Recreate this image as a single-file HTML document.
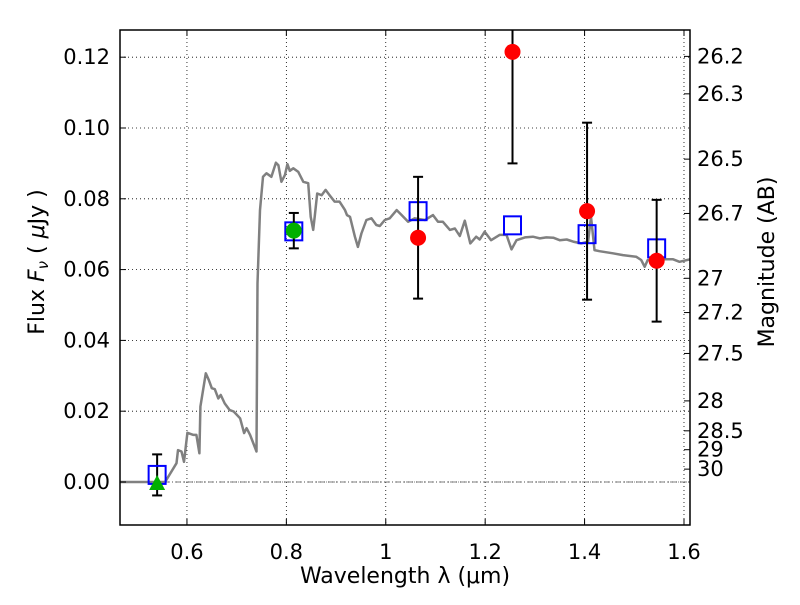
<!DOCTYPE html>
<html><head><meta charset="utf-8">
<style>
html,body{margin:0;padding:0;background:#fff;}
svg text{font-family:"DejaVu Sans","Liberation Sans",sans-serif;fill:#000;}
</style></head>
<body>
<svg id="chart" width="800" height="600" viewBox="0 0 800 600" xmlns="http://www.w3.org/2000/svg">
<defs><clipPath id="plotclip"><rect x="120" y="30" width="570" height="495"/></clipPath></defs>
<rect x="0" y="0" width="800" height="600" fill="#fff"/>
<g id="grid"></g>
<g id="marks" clip-path="url(#plotclip)"></g>
<g id="axes"></g>
</svg>
<script>
const specLam=[0.466,0.556,0.579,0.582,0.589,0.594,0.601,0.613,0.619,0.625,0.627,0.638,0.644,0.650,0.656,0.663,0.668,0.676,0.686,0.694,0.707,0.715,0.720,0.727,0.740,0.742,0.747,0.753,0.760,0.770,0.779,0.784,0.790,0.797,0.802,0.807,0.814,0.824,0.834,0.844,0.849,0.854,0.857,0.862,0.871,0.879,0.887,0.897,0.907,0.918,0.922,0.928,0.938,0.944,0.951,0.961,0.971,0.981,0.988,0.998,1.008,1.022,1.032,1.045,1.058,1.079,1.095,1.105,1.115,1.129,1.139,1.149,1.159,1.170,1.182,1.189,1.199,1.212,1.229,1.243,1.253,1.263,1.280,1.296,1.310,1.323,1.337,1.350,1.364,1.377,1.393,1.407,1.413,1.420,1.430,1.457,1.477,1.504,1.514,1.521,1.527,1.551,1.578,1.591,1.612];
const specFlux=[0,0,0.0053,0.009,0.0086,0.0057,0.0139,0.0133,0.0133,0.0081,0.0213,0.0307,0.0288,0.0265,0.0262,0.0236,0.0246,0.0222,0.0203,0.0199,0.018,0.0138,0.0152,0.0133,0.0086,0.0561,0.0768,0.0862,0.0872,0.0862,0.0902,0.0895,0.0848,0.0867,0.0898,0.0879,0.0886,0.0876,0.0848,0.0844,0.0749,0.0712,0.0749,0.0815,0.081,0.0825,0.081,0.0792,0.0792,0.0768,0.0754,0.0749,0.0693,0.0664,0.0702,0.074,0.0745,0.0726,0.0723,0.074,0.0745,0.0768,0.0754,0.0735,0.0745,0.074,0.0754,0.0735,0.0735,0.0712,0.0716,0.0695,0.0738,0.0674,0.0693,0.0685,0.0707,0.0683,0.0698,0.0698,0.0657,0.0683,0.0691,0.0693,0.0688,0.0691,0.069,0.0683,0.0685,0.0679,0.0674,0.0679,0.0749,0.0655,0.0652,0.0646,0.0641,0.0636,0.0627,0.0608,0.0627,0.0629,0.0629,0.0622,0.0629];
const modelLam=[0.54,0.815,1.065,1.255,1.405,1.545];
const modelFlux=[0.002,0.0708,0.0765,0.0725,0.0700,0.066];
const obsLam=[1.065,1.255,1.405,1.545];
const obsFlux=[0.069,0.1215,0.0765,0.0625];
const obsErr=[0.0172,0.0315,0.025,0.0172];
const greenLam=[0.815];
const greenFlux=[0.071];
const greenErr=[0.005];
const limLam=[0.54];
const limFlux=[0];
const limErrLam=[0.54];
const limErrFlux=[0.002];
const limErr=[0.0058];
const xTicks=[0.6,0.8,1.0,1.2,1.4,1.6];
const xTickLabels=["0.6","0.8","1","1.2","1.4","1.6"];
const yTicks=[0,0.02,0.04,0.06,0.08,0.10,0.12];
const yTickLabels=["0.00","0.02","0.04","0.06","0.08","0.10","0.12"];
const magTicks=[26.2,26.3,26.5,26.7,27,27.2,27.5,28,28.5,29,30];
const magTickLabels=["26.2","26.3","26.5","26.7","27","27.2","27.5","28","28.5","29","30"];

const L=120,R=690,T=30,B=525;
const xmin=0.4653,xmax=1.6121,ymin=-0.01215,ymax=0.12768;
function X(v){return L+(v-xmin)/(xmax-xmin)*(R-L);}
function Y(v){return B-(v-ymin)/(ymax-ymin)*(B-T);}
function magFlux(m){return Math.pow(10,(23.9-m)/2.5);}
const NS="http://www.w3.org/2000/svg";
function mk(tag,attrs,parent){const e=document.createElementNS(NS,tag);for(const k in attrs)e.setAttribute(k,attrs[k]);parent.appendChild(e);return e;}
const grid=document.getElementById('grid'),marks=document.getElementById('marks'),axes=document.getElementById('axes');
const FS=21;
xTicks.forEach((t,i)=>{
  const g=mk('line',{x1:X(t),x2:X(t),y1:T,y2:B,stroke:'#000','stroke-width':0.8,'stroke-dasharray':'1,3'},grid);
  
  
  mk('line',{x1:X(t),x2:X(t),y1:B,y2:B-6,stroke:'#000','stroke-width':1},axes);
  mk('line',{x1:X(t),x2:X(t),y1:T,y2:T+6,stroke:'#000','stroke-width':1},axes);
  const tx=mk('text',{x:X(t),y:B+34,'font-size':FS,'text-anchor':'middle'},axes);
  tx.textContent=xTickLabels[i];
  
  
});
yTicks.forEach((t,i)=>{
  const g=mk('line',{x1:L,x2:R,y1:Y(t),y2:Y(t),stroke:'#000','stroke-width':0.8,'stroke-dasharray':'1,3'},grid);
  
  
  mk('line',{x1:L,x2:L+6,y1:Y(t),y2:Y(t),stroke:'#000','stroke-width':1},axes);
  const tx=mk('text',{x:L-10,y:Y(t)+7,'font-size':FS,'text-anchor':'end'},axes);
  tx.textContent=yTickLabels[i];
  
  
});
magTicks.forEach((m,i)=>{
  const y=Y(magFlux(m));
  mk('line',{x1:R,x2:R-6,y1:y,y2:y,stroke:'#000','stroke-width':1},axes);
  const tx=mk('text',{x:R+7,y:y+7,'font-size':FS,'text-anchor':'start'},axes);
  tx.textContent=magTickLabels[i];
  
  
});
const z=mk('line',{x1:L,x2:R,y1:Y(0),y2:Y(0),stroke:'#555','stroke-width':0.8,'stroke-dasharray':'6,2,1,2'},grid);



let d='';
specLam.forEach((l,i)=>{d+=(i?'L':'M')+X(l).toFixed(1)+','+Y(specFlux[i]).toFixed(1);});
const sp=mk('path',{d:d,fill:'none',stroke:'#808080','stroke-width':2.5,'stroke-linejoin':'round'},marks);



function errbar(x,y,e,name){
  const g=mk('g',{},marks);
  
  
  mk('line',{x1:X(x),x2:X(x),y1:Y(y-e),y2:Y(y+e),stroke:'#000','stroke-width':2},g);
  mk('line',{x1:X(x)-5,x2:X(x)+5,y1:Y(y-e),y2:Y(y-e),stroke:'#000','stroke-width':2},g);
  mk('line',{x1:X(x)-5,x2:X(x)+5,y1:Y(y+e),y2:Y(y+e),stroke:'#000','stroke-width':2},g);
}
limErrLam.forEach((l,i)=>errbar(l,limErrFlux[i],limErr[i],'limit-error-bar'));
modelLam.forEach((l,i)=>{
  const r=mk('rect',{x:X(l)-8.5,y:Y(modelFlux[i])-9,width:17,height:18,fill:'none',stroke:'#0000ff','stroke-width':2},marks);
  
  
});
limLam.forEach((l,i)=>{
  const x=X(l),y=Y(limFlux[i]);
  const p=mk('polygon',{points:`${x-8},${y+8} ${x+8},${y+8} ${x},${y-7}`,fill:'#00b000'},marks);
  
  
});
greenLam.forEach((l,i)=>{
  errbar(l,greenFlux[i],greenErr[i],'green-error-bar');
  const c=mk('circle',{cx:X(l),cy:Y(greenFlux[i]),r:8,fill:'#00b000'},marks);
  
  
});
obsLam.forEach((l,i)=>{
  errbar(l,obsFlux[i],obsErr[i],'red-error-bar');
  const c=mk('circle',{cx:X(l),cy:Y(obsFlux[i]),r:8,fill:'#ff0000'},marks);
  
  
});

const fr=mk('rect',{x:L,y:T,width:R-L,height:B-T,fill:'none',stroke:'#000','stroke-width':1.5},axes);


const xl=mk('text',{x:405,y:583,'font-size':22,'text-anchor':'middle'},axes);
xl.textContent='Wavelength  λ (μm)';


const yl=mk('text',{x:0,y:0,'font-size':22,'text-anchor':'middle',transform:'translate(44,262) rotate(-90)'},axes);
yl.innerHTML='Flux  <tspan font-style="italic">F</tspan><tspan font-style="italic" font-size="15" dy="4">ν</tspan><tspan dy="-4">  ( </tspan><tspan font-style="italic">μ</tspan>Jy )';


const ml=mk('text',{x:0,y:0,'font-size':22,'text-anchor':'middle',transform:'translate(774,262) rotate(-90)'},axes);
ml.textContent='Magnitude (AB)';


</script>
</body></html>
